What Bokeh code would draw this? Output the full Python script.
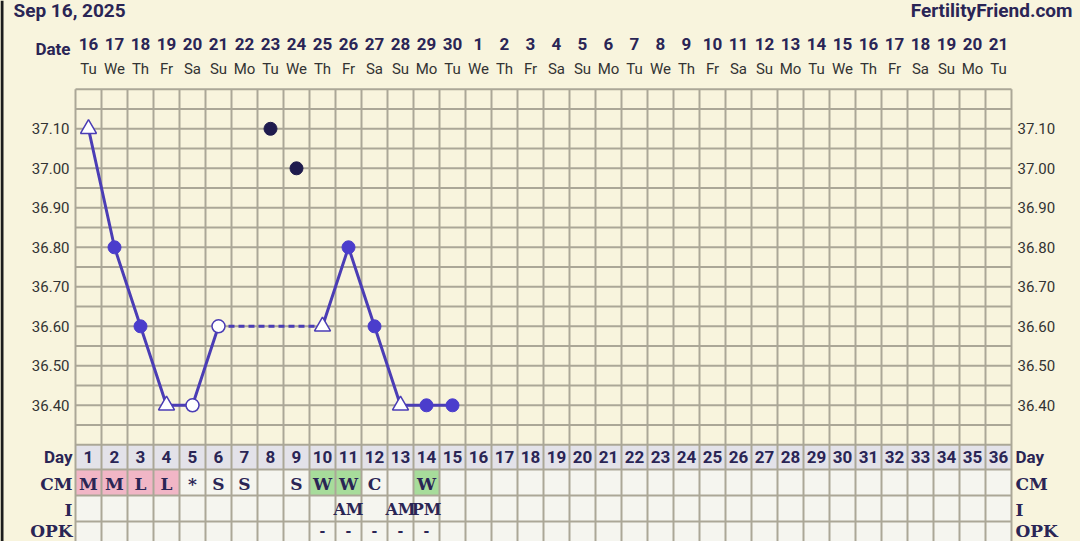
import math
from bokeh.plotting import figure
from bokeh.models import Range1d
from bokeh.core.properties import value
from bokeh.embed import file_html
from bokeh.resources import INLINE

# ---------------- data ----------------
title_left = "Sep 16, 2025"
title_right = "FertilityFriend.com"
cycle_days = list(range(1, 37))
dates = [str(d) for d in list(range(16, 31)) + list(range(1, 22))]
weekdays = (["Tu", "We", "Th", "Fr", "Sa", "Su", "Mo"] * 6)[:36]

temp_days = [1, 2, 3, 4, 5, 6, 10, 11, 12, 13, 14, 15]
temps = [37.10, 36.80, 36.60, 36.40, 36.40, 36.60, 36.60, 36.80, 36.60, 36.40, 36.40, 36.40]
temp_kind = ["tri", "dot", "dot", "tri", "open", "open", "tri", "dot", "dot", "tri", "dot", "dot"]

excluded_days = [8, 9]
excluded_temps = [37.10, 37.00]

y_ticks = [37.10, 37.00, 36.90, 36.80, 36.70, 36.60, 36.50, 36.40]

cm_days = [1, 2, 3, 4, 5, 6, 7, 9, 10, 11, 12, 14]
cm_codes = ["M", "M", "L", "L", "*", "S", "S", "S", "W", "W", "C", "W"]
i_days = [11, 13, 14]
i_codes = ["AM", "AM", "PM"]
opk_days = [10, 11, 12, 13, 14]
opk_codes = ["-", "-", "-", "-", "-"]
row_labels = ["Day", "CM", "I", "OPK"]

# ---------------- style ----------------
W, H = 1080, 541
CREAM = "#f8f4dd"
GRID = "#aba797"
NAVY = "#2a2555"
LINE = "#4b3db5"
DOT = "#4b3dcc"
DARK = "#1f1b4d"
CELL = "#f5f5ef"
DAYROW = "#e3e2e9"
PINK = "#f1b6c6"
GREEN = "#a7dc9b"
SANS = value("Roboto")
SERIF = value("DejaVu Serif")

col_w = 26.0
x0px = 62.0          # px of day 0 center
px_per_deg = 395.0
y_ref_T, y_ref_px = 37.10, 128.3

x_lo = (0 - x0px) / col_w
x_hi = (W - x0px) / col_w
t_hi = y_ref_T + y_ref_px / px_per_deg
t_lo = y_ref_T - (H - y_ref_px) / px_per_deg

p = figure(width=W, height=H, output_backend="svg", toolbar_location=None,
           x_range=Range1d(x_lo, x_hi), y_range=Range1d(t_lo, t_hi),
           min_border=0, background_fill_color=CREAM, border_fill_color=CREAM,
           outline_line_color=None)
p.extra_x_ranges = {"px": Range1d(0, W)}
p.extra_y_ranges = {"px": Range1d(H, 0)}
p.axis.visible = False
p.xgrid.visible = False
p.ygrid.visible = False

# dark edge at the left of the screenshot
p.quad(left=[0], right=[3], top=[0], bottom=[H], x_range_name="px",
       y_range_name="px", fill_color="#1c1c1c", line_color=None)

# table rows (px)
row_tops = [444, 469, 495, 521]
row_bots = [469, 495, 521, 560]
row_centers = [456.5, 482, 508, 530]

# day row background
p.quad(left=[d - 0.5 for d in cycle_days], right=[d + 0.5 for d in cycle_days],
       top=[row_tops[0]] * 36, bottom=[row_bots[0]] * 36, y_range_name="px",
       fill_color=DAYROW, line_color=None)
# other rows background
p.quad(left=[0.5], right=[36.5], top=[row_tops[1]], bottom=[row_bots[3]],
       y_range_name="px", fill_color=CELL, line_color=None)
# CM cell colours
cm_col = {"M": PINK, "L": PINK, "W": GREEN}
cdays = [d for d, c in zip(cm_days, cm_codes) if c in cm_col]
ccols = [cm_col[c] for c in cm_codes if c in cm_col]
p.quad(left=[d - 0.5 for d in cdays], right=[d + 0.5 for d in cdays],
       top=[row_tops[1]] * len(cdays), bottom=[row_bots[1]] * len(cdays),
       y_range_name="px", fill_color=ccols, line_color=None)

# grid lines
vx = [d - 0.5 for d in cycle_days] + [36.5]
p.segment(x0=vx, x1=vx, y0=[37.20] * len(vx), y1=[t_lo - 0.1] * len(vx),
          line_color=GRID, line_width=2)
hy = [round(36.30 + 0.05 * i, 2) for i in range(19)]
p.segment(x0=[0.5] * len(hy), x1=[36.5] * len(hy), y0=hy, y1=hy,
          line_color=GRID, line_width=2)
p.segment(x0=[0.5] * 3, x1=[36.5] * 3, y0=row_tops[1:], y1=row_tops[1:],
          y_range_name="px", line_color=GRID, line_width=2)

# temperature line
solid_x, solid_y, dash_x0, dash_x1, dash_y0, dash_y1 = [], [], [], [], [], []
for i, (d, t) in enumerate(zip(temp_days, temps)):
    if i > 0 and d - temp_days[i - 1] > 1:
        solid_x.append(math.nan)
        solid_y.append(math.nan)
        dash_x0.append(temp_days[i - 1]); dash_y0.append(temps[i - 1])
        dash_x1.append(d); dash_y1.append(t)
    solid_x.append(d)
    solid_y.append(t)
p.line(solid_x, solid_y, line_color=LINE, line_width=3)
p.segment(x0=dash_x0, x1=dash_x1, y0=dash_y0, y1=dash_y1, line_color=LINE,
          line_width=3, line_dash="6 4")

def pick(kind):
    xs = [d for d, k in zip(temp_days, temp_kind) if k == kind]
    ys = [t for t, k in zip(temps, temp_kind) if k == kind]
    return xs, ys

xs, ys = pick("dot")
p.scatter(xs, ys, marker="circle", size=13, fill_color=DOT, line_color=DOT)
xs, ys = pick("open")
p.scatter(xs, ys, marker="circle", size=13, fill_color="white", line_color=LINE, line_width=1.5)
xs, ys = pick("tri")
p.scatter(xs, ys, marker="triangle", size=16, fill_color="white", line_color=LINE, line_width=1.5)
p.scatter(excluded_days, excluded_temps, marker="circle", size=13, fill_color=DARK, line_color=DARK)

# y tick labels
ylab = ["%.2f" % t for t in y_ticks]
p.text(x=[69] * len(y_ticks), y=y_ticks, text=ylab, x_range_name="px",
       text_align="right", text_baseline="middle", text_font=SANS,
       text_font_size="15px", text_color="#333333")
p.text(x=[1017] * len(y_ticks), y=y_ticks, text=ylab, x_range_name="px",
       text_align="left", text_baseline="middle", text_font=SANS,
       text_font_size="15px", text_color="#333333")

# titles
p.text(x=[13], y=[10], text=[title_left], x_range_name="px", y_range_name="px",
       text_align="left", text_baseline="middle", text_font=SANS,
       text_font_style="bold", text_font_size="19px", text_color=NAVY)
p.text(x=[1072], y=[10], text=[title_right], x_range_name="px", y_range_name="px",
       text_align="right", text_baseline="middle", text_font=SANS,
       text_font_style="bold", text_font_size="19px", text_color=NAVY)

# date header
p.text(x=[70], y=[48], text=["Date"], x_range_name="px", y_range_name="px",
       text_align="right", text_baseline="middle", text_font=SANS,
       text_font_style="bold", text_font_size="17px", text_color=NAVY)
p.text(x=cycle_days, y=[43] * 36, text=dates, y_range_name="px",
       text_align="center", text_baseline="middle", text_font=SANS,
       text_font_style="bold", text_font_size="17px", text_color=NAVY)
p.text(x=cycle_days, y=[68] * 36, text=weekdays, y_range_name="px",
       text_align="center", text_baseline="middle", text_font=SANS,
       text_font_size="15px", text_color="#333333")

# table rows
p.text(x=cycle_days, y=[row_centers[0]] * 36, text=[str(d) for d in cycle_days],
       y_range_name="px", text_align="center", text_baseline="middle",
       text_font=SANS, text_font_style="bold", text_font_size="17px", text_color=NAVY)
p.text(x=cm_days, y=[row_centers[1] + 1] * len(cm_days), text=cm_codes,
       y_range_name="px", text_align="center", text_baseline="middle",
       text_font=SERIF, text_font_style="bold", text_font_size="17px", text_color=NAVY)
p.text(x=i_days, y=[row_centers[2] + 1] * len(i_days), text=i_codes,
       y_range_name="px", text_align="center", text_baseline="middle",
       text_font=SERIF, text_font_style="bold", text_font_size="16px", text_color=NAVY)
p.text(x=opk_days, y=[row_centers[3]] * len(opk_days), text=opk_codes,
       y_range_name="px", text_align="center", text_baseline="middle",
       text_font=SERIF, text_font_style="bold", text_font_size="14px", text_color=NAVY)

label_y = [row_centers[0], row_centers[1] + 1, row_centers[2] + 1, row_centers[3]]
label_font = [SANS, SERIF, SERIF, SERIF]
for lbl, yy, fnt in zip(row_labels, label_y, label_font):
    p.text(x=[72], y=[yy], text=[lbl], x_range_name="px", y_range_name="px",
           text_align="right", text_baseline="middle", text_font=fnt,
           text_font_style="bold", text_font_size="17px", text_color=NAVY)
    p.text(x=[1015], y=[yy], text=[lbl], x_range_name="px", y_range_name="px",
           text_align="left", text_baseline="middle", text_font=fnt,
           text_font_style="bold", text_font_size="17px", text_color=NAVY)

html = file_html(p, INLINE)
html = html.replace("<head>", "<head><style>html,body{background:%s;}</style>" % CREAM, 1)
open("out.html", "w").write(html)
